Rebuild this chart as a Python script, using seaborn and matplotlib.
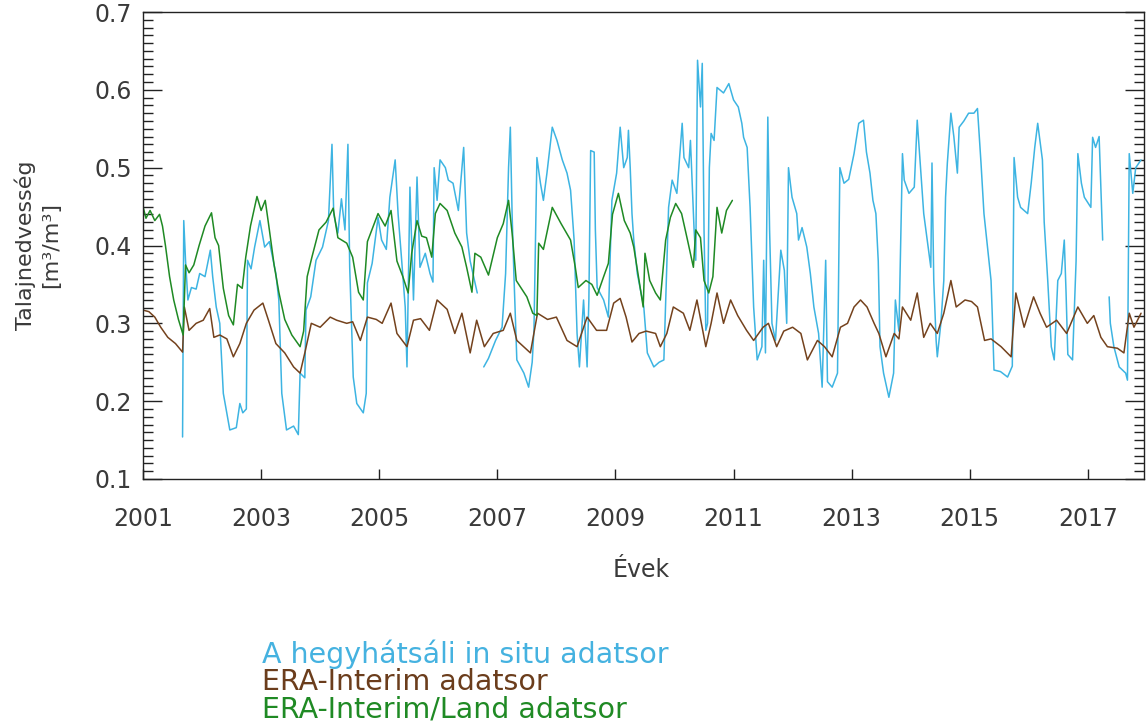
import numpy as np
import pandas as pd
import matplotlib
matplotlib.use("Agg")
import matplotlib.pyplot as plt
import seaborn as sns
from matplotlib.ticker import MultipleLocator, FixedLocator, FormatStrFormatter

# --- soil moisture series (decimal year, m3/m3) ---------------------------
insitu_year = [
    2001.67, 2001.69, 2001.72, 2001.76, 2001.82, 2001.90, 2001.96, 2002.05, 2002.14, 2002.18,
    2002.24, 2002.30, 2002.36, 2002.47, 2002.58, 2002.64, 2002.69, 2002.75, 2002.77, 2002.83,
    2002.89, 2002.98, 2003.06, 2003.14, 2003.25, 2003.30, 2003.35, 2003.43, 2003.55, 2003.63,
    2003.66, 2003.74, 2003.76, 2003.84, 2003.93, 2004.04, 2004.14, 2004.20, 2004.23, 2004.30,
    2004.36, 2004.42, 2004.47, 2004.50, 2004.56, 2004.62, 2004.73, 2004.78, 2004.80, 2004.88,
    2004.98, 2005.04, 2005.12, 2005.18, 2005.27, 2005.32, 2005.38, 2005.44, 2005.47, 2005.52,
    2005.58, 2005.64, 2005.69, 2005.78, 2005.86, 2005.91, 2005.93, 2005.98, 2006.03, 2006.12,
    2006.17, 2006.25, 2006.34, 2006.43, 2006.48, 2006.54, 2006.66, 2006.70, 2006.77, 2006.85,
    2006.97, 2007.08, 2007.14, 2007.19, 2007.22, 2007.25, 2007.28, 2007.33, 2007.45, 2007.53,
    2007.59, 2007.62, 2007.67, 2007.73, 2007.78, 2007.84, 2007.93, 2008.01, 2008.10, 2008.18,
    2008.24, 2008.30, 2008.35, 2008.39, 2008.46, 2008.52, 2008.55, 2008.58, 2008.64, 2008.66,
    2008.69, 2008.80, 2008.88, 2008.94, 2009.02, 2009.08, 2009.14, 2009.20, 2009.22, 2009.25,
    2009.28, 2009.31, 2009.37, 2009.48, 2009.54, 2009.65, 2009.74, 2009.82, 2009.90, 2009.96,
    2010.04, 2010.13, 2010.16, 2010.24, 2010.27, 2010.33, 2010.36, 2010.39, 2010.44, 2010.47,
    2010.50, 2010.53, 2010.56, 2010.59, 2010.62, 2010.67, 2010.72, 2010.83, 2010.92, 2011.00,
    2011.08, 2011.14, 2011.17, 2011.23, 2011.28, 2011.34, 2011.40, 2011.48, 2011.51, 2011.54,
    2011.58, 2011.61, 2011.65, 2011.71, 2011.80, 2011.86, 2011.90, 2011.93, 2011.99, 2012.07,
    2012.10, 2012.16, 2012.24, 2012.30, 2012.36, 2012.44, 2012.50, 2012.56, 2012.59, 2012.67,
    2012.76, 2012.80, 2012.87, 2012.95, 2013.04, 2013.12, 2013.20, 2013.25, 2013.31, 2013.36,
    2013.41, 2013.45, 2013.48, 2013.54, 2013.63, 2013.71, 2013.74, 2013.80, 2013.84, 2013.86,
    2013.89, 2013.97, 2014.06, 2014.11, 2014.16, 2014.22, 2014.28, 2014.34, 2014.36, 2014.39,
    2014.43, 2014.45, 2014.51, 2014.56, 2014.59, 2014.62, 2014.68, 2014.73, 2014.79, 2014.82,
    2014.90, 2014.98, 2015.07, 2015.13, 2015.19, 2015.24, 2015.30, 2015.36, 2015.38, 2015.41,
    2015.52, 2015.64, 2015.72, 2015.75, 2015.81, 2015.86, 2015.98, 2016.04, 2016.10, 2016.15,
    2016.23, 2016.26, 2016.32, 2016.38, 2016.43, 2016.49, 2016.55, 2016.60, 2016.63, 2016.66,
    2016.74, 2016.80, 2016.83, 2016.89, 2016.94, 2017.05, 2017.08, 2017.13, 2017.19, 2017.25,
    2017.27, 2017.30, 2017.33, 2017.36, 2017.38, 2017.44, 2017.53, 2017.64, 2017.67, 2017.70,
    2017.76, 2017.81, 2017.90,
]
insitu_value = [
    0.154, 0.432, 0.381, 0.330, 0.346, 0.344, 0.364, 0.360, 0.394, 0.360,
    0.321, 0.300, 0.210, 0.163, 0.166, 0.197, 0.185, 0.190, 0.381, 0.370,
    0.398, 0.432, 0.398, 0.405, 0.364, 0.330, 0.210, 0.163, 0.168, 0.157,
    0.236, 0.230, 0.317, 0.334, 0.381, 0.398, 0.432, 0.530, 0.440, 0.416,
    0.460, 0.420, 0.530, 0.372, 0.231, 0.197, 0.185, 0.210, 0.352, 0.377,
    0.436, 0.407, 0.395, 0.462, 0.510, 0.440, 0.381, 0.321, 0.244, 0.475,
    0.330, 0.488, 0.372, 0.390, 0.364, 0.353, 0.500, 0.458, 0.510, 0.500,
    0.484, 0.480, 0.445, 0.526, 0.416, 0.380, 0.339, np.nan, 0.244, 0.255,
    0.278, 0.295, 0.364, 0.500, 0.552, 0.440, 0.364, 0.253, 0.236, 0.218,
    0.250, 0.291, 0.513, 0.480, 0.458, 0.493, 0.552, 0.535, 0.510, 0.493,
    0.471, 0.407, 0.287, 0.244, 0.330, 0.244, 0.330, 0.522, 0.520, 0.420,
    0.346, 0.330, 0.308, 0.458, 0.493, 0.552, 0.500, 0.513, 0.548, 0.500,
    0.441, 0.407, 0.364, 0.321, 0.262, 0.244, 0.250, 0.253, 0.449, 0.484,
    0.467, 0.557, 0.513, 0.500, 0.535, 0.423, 0.381, 0.638, 0.578, 0.634,
    0.420, 0.291, 0.300, 0.500, 0.544, 0.535, 0.603, 0.596, 0.608, 0.587,
    0.578, 0.557, 0.539, 0.526, 0.449, 0.321, 0.253, 0.270, 0.381, 0.262,
    0.565, 0.420, 0.300, 0.278, 0.394, 0.368, 0.300, 0.500, 0.462, 0.441,
    0.407, 0.423, 0.398, 0.364, 0.321, 0.287, 0.218, 0.381, 0.225, 0.218,
    0.236, 0.500, 0.480, 0.485, 0.518, 0.557, 0.561, 0.520, 0.493, 0.458,
    0.441, 0.380, 0.270, 0.236, 0.205, 0.236, 0.330, 0.290, 0.441, 0.518,
    0.484, 0.467, 0.475, 0.561, 0.506, 0.441, 0.407, 0.372, 0.506, 0.355,
    0.278, 0.257, 0.300, 0.355, 0.462, 0.506, 0.570, 0.540, 0.493, 0.552,
    0.560, 0.570, 0.570, 0.576, 0.506, 0.441, 0.398, 0.355, 0.313, 0.240,
    0.238, 0.231, 0.245, 0.513, 0.462, 0.449, 0.441, 0.480, 0.526, 0.557,
    0.510, 0.430, 0.355, 0.270, 0.253, 0.355, 0.364, 0.407, 0.340, 0.260,
    0.253, 0.380, 0.518, 0.480, 0.462, 0.449, 0.539, 0.526, 0.540, 0.407,
    np.nan, 0.395, np.nan, 0.334, 0.300, 0.270, 0.244, 0.236, 0.227, 0.518,
    0.467, 0.500, 0.510,
]

era_year = [
    2001.00, 2001.10, 2001.20, 2001.30, 2001.42, 2001.55, 2001.67, 2001.70, 2001.78, 2001.90,
    2002.02, 2002.13, 2002.20, 2002.30, 2002.42, 2002.53, 2002.64, 2002.75, 2002.88, 2003.03,
    2003.12, 2003.25, 2003.40, 2003.55, 2003.66, 2003.74, 2003.85, 2004.00, 2004.17, 2004.28,
    2004.45, 2004.55, 2004.68, 2004.80, 2004.95, 2005.05, 2005.20, 2005.30, 2005.47, 2005.58,
    2005.70, 2005.85, 2005.98, 2006.15, 2006.28, 2006.40, 2006.54, 2006.65, 2006.78, 2006.93,
    2007.10, 2007.22, 2007.33, 2007.56, 2007.68, 2007.85, 2008.00, 2008.18, 2008.35, 2008.52,
    2008.68, 2008.85, 2008.97, 2009.08, 2009.18, 2009.28, 2009.40, 2009.52, 2009.68, 2009.76,
    2009.87, 2009.98, 2010.15, 2010.26, 2010.38, 2010.53, 2010.62, 2010.72, 2010.83, 2010.95,
    2011.07, 2011.22, 2011.34, 2011.50, 2011.59, 2011.73, 2011.85, 2012.00, 2012.14, 2012.25,
    2012.42, 2012.54, 2012.67, 2012.81, 2012.93, 2013.04, 2013.15, 2013.26, 2013.38, 2013.46,
    2013.58, 2013.72, 2013.80, 2013.86, 2014.00, 2014.11, 2014.22, 2014.33, 2014.45, 2014.56,
    2014.68, 2014.77, 2014.92, 2015.03, 2015.13, 2015.25, 2015.36, 2015.53, 2015.70, 2015.78,
    2015.92, 2016.08, 2016.19, 2016.30, 2016.47, 2016.64, 2016.83, 2016.99, 2017.10, 2017.22,
    2017.33, 2017.50, 2017.61, 2017.70, 2017.78, 2017.90,
]
era_value = [
    0.317, 0.315, 0.308, 0.295, 0.282, 0.274, 0.263, 0.321, 0.291, 0.300,
    0.304, 0.319, 0.282, 0.285, 0.280, 0.257, 0.274, 0.300, 0.317, 0.326,
    0.305, 0.274, 0.262, 0.244, 0.236, 0.262, 0.300, 0.295, 0.308, 0.304,
    0.300, 0.302, 0.278, 0.308, 0.305, 0.300, 0.326, 0.287, 0.270, 0.304,
    0.306, 0.291, 0.330, 0.318, 0.287, 0.313, 0.262, 0.304, 0.270, 0.287,
    0.291, 0.313, 0.278, 0.262, 0.313, 0.305, 0.308, 0.278, 0.270, 0.308,
    0.291, 0.291, 0.326, 0.332, 0.308, 0.276, 0.287, 0.290, 0.287, 0.270,
    0.287, 0.321, 0.313, 0.291, 0.330, 0.270, 0.300, 0.339, 0.300, 0.330,
    0.310, 0.291, 0.278, 0.295, 0.300, 0.270, 0.290, 0.295, 0.287, 0.253,
    0.278, 0.270, 0.257, 0.295, 0.300, 0.321, 0.330, 0.321, 0.300, 0.287,
    0.257, 0.287, 0.280, 0.321, 0.304, 0.339, 0.282, 0.300, 0.287, 0.313,
    0.355, 0.321, 0.330, 0.328, 0.321, 0.278, 0.280, 0.270, 0.257, 0.339,
    0.295, 0.334, 0.313, 0.295, 0.304, 0.287, 0.321, 0.300, 0.310, 0.282,
    0.270, 0.268, 0.262, 0.313, 0.295, 0.313,
]

land_year = [
    2001.00, 2001.05, 2001.12, 2001.20, 2001.28, 2001.33, 2001.38, 2001.45, 2001.52, 2001.60,
    2001.68, 2001.72, 2001.78, 2001.86, 2001.95, 2002.05, 2002.16, 2002.22, 2002.28, 2002.36,
    2002.45, 2002.53, 2002.60, 2002.68, 2002.74, 2002.82, 2002.93, 2003.00, 2003.07, 2003.14,
    2003.22, 2003.30, 2003.40, 2003.52, 2003.66, 2003.72, 2003.78, 2003.86, 2003.98, 2004.10,
    2004.22, 2004.30, 2004.45, 2004.55, 2004.65, 2004.73, 2004.80, 2004.98, 2005.10, 2005.20,
    2005.30, 2005.40, 2005.49, 2005.55, 2005.64, 2005.72, 2005.80, 2005.89, 2005.95, 2006.03,
    2006.15, 2006.28, 2006.40, 2006.48, 2006.57, 2006.62, 2006.72, 2006.85, 2007.00, 2007.10,
    2007.19, 2007.25, 2007.32, 2007.50, 2007.60, 2007.67, 2007.70, 2007.78, 2007.93, 2008.08,
    2008.24, 2008.32, 2008.37, 2008.50, 2008.60, 2008.69, 2008.80, 2008.88, 2008.95, 2009.05,
    2009.15, 2009.25, 2009.31, 2009.40, 2009.47, 2009.50, 2009.58, 2009.68, 2009.76, 2009.85,
    2009.93, 2010.02, 2010.12, 2010.22, 2010.32, 2010.36, 2010.44, 2010.50, 2010.58, 2010.65,
    2010.72, 2010.80, 2010.88, 2010.98,
]
land_value = [
    0.450, 0.435, 0.445, 0.432, 0.440, 0.425, 0.400, 0.360, 0.330, 0.305,
    0.285, 0.375, 0.365, 0.375, 0.400, 0.425, 0.442, 0.410, 0.400, 0.345,
    0.310, 0.298, 0.350, 0.345, 0.385, 0.425, 0.463, 0.445, 0.458, 0.420,
    0.375, 0.340, 0.305, 0.285, 0.270, 0.290, 0.360, 0.385, 0.420, 0.430,
    0.448, 0.410, 0.403, 0.385, 0.340, 0.330, 0.405, 0.441, 0.425, 0.445,
    0.380, 0.360, 0.339, 0.390, 0.432, 0.412, 0.410, 0.385, 0.441, 0.454,
    0.445, 0.416, 0.398, 0.372, 0.340, 0.390, 0.385, 0.362, 0.410, 0.428,
    0.458, 0.416, 0.355, 0.334, 0.313, 0.310, 0.403, 0.395, 0.449, 0.428,
    0.407, 0.372, 0.346, 0.355, 0.350, 0.336, 0.360, 0.377, 0.440, 0.467,
    0.432, 0.416, 0.398, 0.355, 0.321, 0.390, 0.355, 0.339, 0.330, 0.407,
    0.436, 0.454, 0.441, 0.407, 0.372, 0.420, 0.410, 0.355, 0.339, 0.360,
    0.449, 0.416, 0.445, 0.458,
]

year_ticks = [2001, 2003, 2005, 2007, 2009, 2011, 2013, 2015, 2017]

series_names = ["A hegyhátsáli in situ adatsor", "ERA-Interim adatsor", "ERA-Interim/Land adatsor"]
series_colors = ["#3db4e2", "#74421d", "#1f8a24"]
label_colors = ["#45b2e0", "#6b3d1c", "#1f8a24"]


def as_frame(years, values):
    df = pd.DataFrame({"year": years, "value": values})
    # consecutive runs without missing values are drawn as separate pieces
    df["piece"] = df["value"].isna().cumsum()
    return df.dropna()


sns.set_theme(style="white")
plt.rcParams["font.family"] = ["DejaVu Sans"]

fig = plt.figure(figsize=(11.48, 7.22), dpi=100)
ax = fig.add_axes([143 / 1148, 1 - 479 / 722, 1001 / 1148, 467 / 722])

for (yrs, vals), color in zip(
    [(insitu_year, insitu_value), (era_year, era_value), (land_year, land_value)],
    series_colors,
):
    sns.lineplot(
        data=as_frame(yrs, vals), x="year", y="value", units="piece",
        estimator=None, sort=False, color=color, linewidth=1.1, ax=ax,
    )

ax.set_xlim(2001, 2017.95)
ax.set_ylim(0.1, 0.7)

ax.xaxis.set_major_locator(FixedLocator(year_ticks))
ax.xaxis.set_major_formatter(FormatStrFormatter("%d"))
ax.yaxis.set_major_locator(MultipleLocator(0.1))
ax.yaxis.set_minor_locator(MultipleLocator(0.01))
ax.yaxis.set_major_formatter(FormatStrFormatter("%.1f"))

for side in ["left", "right", "top", "bottom"]:
    ax.spines[side].set_visible(True)
    ax.spines[side].set_color("#222222")
    ax.spines[side].set_linewidth(1.0)

ax.tick_params(axis="y", which="major", direction="in", length=14, width=1.0,
               left=True, right=True, labelsize=17, pad=8, colors="#222222",
               labelcolor="#3a3a3a")
ax.tick_params(axis="y", which="minor", direction="in", length=7, width=1.0,
               left=True, right=True, colors="#222222")
ax.tick_params(axis="x", which="major", direction="in", length=7, width=1.0,
               bottom=True, top=False, labelsize=17, pad=20, colors="#222222",
               labelcolor="#3a3a3a")

ax.set_xlabel("Évek", fontsize=17, color="#3a3a3a")
ax.xaxis.set_label_coords(0.498, -0.17)
ax.set_ylabel("Talajnedvesség\n[m³/m³]", fontsize=16, color="#3a3a3a", linespacing=1.3)
ax.yaxis.set_label_coords(-0.082, 0.5)

for i, (name, col) in enumerate(zip(series_names, label_colors)):
    fig.text(262 / 1148, 1 - (663 + 27.5 * i) / 722, name, color=col,
             fontsize=20.5, va="baseline", ha="left")

fig.savefig("out.png", dpi=100, facecolor="white")
